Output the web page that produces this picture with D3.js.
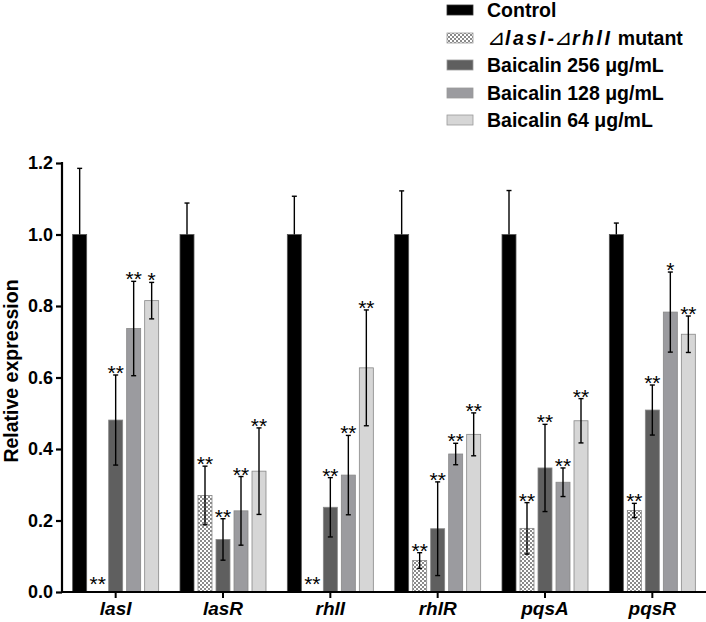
<!DOCTYPE html>
<html><head><meta charset="utf-8">
<script src="https://cdn.jsdelivr.net/npm/d3@7"></script>
<style>body{margin:0;background:#fff}svg{display:block}</style>
</head><body>
<script>
const genes = ["lasI","lasR","rhlI","rhlR","pqsA","pqsR"];
const seriesNames = ["Control","mutant","Baicalin 256 μg/mL","Baicalin 128 μg/mL","Baicalin 64 μg/mL"];
const control   = [1.0, 1.0, 1.0, 1.0, 1.0, 1.0];
const controlSD = [0.185, 0.088, 0.107, 0.122, 0.123, 0.032];
const mutant    = [0.0, 0.270, 0.0, 0.088, 0.178, 0.228];
const mutantSD  = [0.0, 0.082, 0.0, 0.022, 0.072, 0.020];
const b256      = [0.481, 0.147, 0.237, 0.177, 0.347, 0.509];
const b256SD    = [0.126, 0.058, 0.083, 0.131, 0.122, 0.070];
const b128      = [0.737, 0.227, 0.327, 0.386, 0.307, 0.783];
const b128SD    = [0.132, 0.096, 0.111, 0.030, 0.040, 0.112];
const b64       = [0.815, 0.338, 0.627, 0.441, 0.479, 0.721];
const b64SD     = [0.051, 0.121, 0.162, 0.060, 0.062, 0.051];
const stars = [
  ["", "", "", "", "", ""],
  ["**","**","**","**","**","**"],
  ["**","**","**","**","**","**"],
  ["**","**","**","**","**","*"],
  ["*","**","**","**","**","**"]
];
const yTicks = [0.0, 0.2, 0.4, 0.6, 0.8, 1.0, 1.2];

const means = [control, mutant, b256, b128, b64];
const sds = [controlSD, mutantSD, b256SD, b128SD, b64SD];
const fills = ["#000000", "url(#checker)", "#5f5f5f", "#9b9b9f", "#d6d6d6"];

const W = 706, H = 622;
const FONT = "Arial, 'Liberation Sans', sans-serif";
const svg = d3.select("body").append("svg").attr("width", W).attr("height", H)
  .style("font-family", FONT);

const defs = svg.append("defs");
const pat = defs.append("pattern").attr("id","checker").attr("patternUnits","userSpaceOnUse")
  .attr("width",4).attr("height",4);
pat.append("rect").attr("width",4).attr("height",4).attr("fill","#ffffff");
pat.append("rect").attr("width",2).attr("height",2).attr("fill","#8a8a8a");
pat.append("rect").attr("x",2).attr("y",2).attr("width",2).attr("height",2).attr("fill","#8a8a8a");

const x0 = d3.scaleBand().domain(genes).range([62, 706]).paddingInner(0).paddingOuter(0);
const y = d3.scaleLinear().domain([0, 1.2]).range([592, 163]);
const barW = 14;
const xs = d3.scaleBand().domain(d3.range(5)).range([-45, 45]).padding(0);

// bars
const g = svg.append("g");
genes.forEach((gene, gi) => {
  const cx = x0(gene) + x0.bandwidth() / 2;
  for (let s = 0; s < 5; s++) {
    const m = means[s][gi], sd = sds[s][gi];
    const bx = cx + xs(s) + (xs.bandwidth() - barW) / 2;
    const bc = bx + barW / 2;
    if (m > 0) {
      g.append("rect").attr("x", bx).attr("y", y(m)).attr("width", barW)
        .attr("height", y(0) - y(m)).attr("fill", fills[s])
        .attr("stroke", s === 0 ? "#555" : "#888").attr("stroke-width", 0.8);
    }
    if (sd > 0) {
      const top = y(m + sd), bot = y(m - sd);
      g.append("line").attr("x1", bc).attr("x2", bc).attr("y1", top).attr("y2", s === 0 ? y(m) : bot)
        .attr("stroke", "#000").attr("stroke-width", 1.4);
      g.append("line").attr("x1", bc - 2.5).attr("x2", bc + 2.5).attr("y1", top).attr("y2", top)
        .attr("stroke", "#000").attr("stroke-width", 1.4);
      if (s !== 0) g.append("line").attr("x1", bc - 2.5).attr("x2", bc + 2.5).attr("y1", bot).attr("y2", bot)
        .attr("stroke", "#000").attr("stroke-width", 1.4);
    }
    const st = stars[s][gi];
    if (st) {
      const centerY = Math.min(y(m + sd) - 7, y(0) - 13);
      g.append("text").attr("x", bc).attr("y", centerY + 12).attr("text-anchor", "middle")
        .attr("font-size", 21).attr("fill", "#000").text(st);
    }
  }
});

// axes
const yAxis = d3.axisLeft(y).tickValues(yTicks).tickFormat(d3.format(".1f")).tickSize(6).tickPadding(3);
const ya = svg.append("g").attr("transform", "translate(62,0)").call(yAxis);
ya.select(".domain").attr("stroke-width", 2.2).attr("d", "M0,162V592");
ya.selectAll(".tick line").attr("stroke-width", 2.2);
ya.selectAll("text").attr("font-size", 18).attr("font-weight", "bold").attr("fill", "#000")
  .style("font-family", FONT);

const xAxis = d3.axisBottom(x0).tickSize(6).tickPadding(5).tickSizeOuter(0);
const xa = svg.append("g").attr("transform", "translate(0,592)").call(xAxis);
xa.select(".domain").attr("stroke-width", 2.2).attr("d", "M61,0H706");
xa.selectAll(".tick line").attr("stroke-width", 2);
xa.selectAll("text").attr("font-size", 19).attr("font-weight", "bold").attr("font-style", "italic")
  .attr("fill", "#000").attr("y", 23).attr("dy", null)
  .style("font-family", FONT);

svg.append("text").attr("transform", "translate(18,371) rotate(-90)").attr("text-anchor", "middle")
  .attr("font-size", 19.5).attr("font-weight", "bold").text("Relative expression");

// legend
const leg = svg.append("g");
const legY = [10, 38, 65, 93, 120];
for (let s = 0; s < 5; s++) {
  leg.append("rect").attr("x", 447).attr("y", legY[s] - 5).attr("width", 26).attr("height", 10)
    .attr("fill", fills[s]).attr("stroke", s === 0 ? "#333" : "#999").attr("stroke-width", 0.8);
  const t = leg.append("text").attr("x", 487).attr("y", legY[s] + 7)
    .attr("font-size", 19.5).attr("font-weight", "bold").attr("fill", "#000");
  if (s === 1) {
    t.append("tspan").attr("font-weight", "normal").attr("font-size", 22).text("⊿");
    t.append("tspan").attr("font-style", "italic").attr("letter-spacing", 2.5).text("lasI");
    t.append("tspan").text("-");
    t.append("tspan").attr("font-weight", "normal").attr("font-size", 22).text("⊿");
    t.append("tspan").attr("font-style", "italic").attr("letter-spacing", 2.5).text("rhlI");
    t.append("tspan").text(" mutant");
  } else {
    t.text(seriesNames[s]);
  }
}
</script>
</body></html>
